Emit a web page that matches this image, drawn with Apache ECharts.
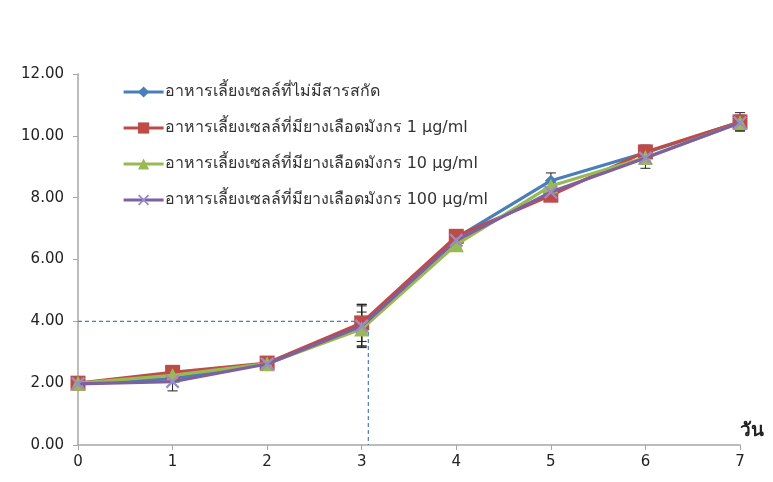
<!DOCTYPE html>
<html><head><meta charset="utf-8">
<script src="https://cdn.jsdelivr.net/npm/echarts@6/dist/echarts.min.js"></script>
<style>html,body{margin:0;padding:0;background:#fff}#c{width:773px;height:482px}</style>
</head><body><div id="c"></div>
<script>
const days = [0,1,2,3,4,5,6,7];
const seriesNames = [
  'อาหารเลี้ยงเซลล์ที่ไม่มีสารสกัด',
  'อาหารเลี้ยงเซลล์ที่มียางเลือดมังกร 1 µg/ml',
  'อาหารเลี้ยงเซลล์ที่มียางเลือดมังกร 10 µg/ml',
  'อาหารเลี้ยงเซลล์ที่มียางเลือดมังกร 100 µg/ml'
];
const control = [2.0, 2.15, 2.63, 3.85, 6.70, 8.55, 9.45, 10.45];
const dose1   = [2.0, 2.35, 2.65, 3.95, 6.75, 8.08, 9.48, 10.45];
const dose10  = [2.0, 2.25, 2.63, 3.75, 6.48, 8.38, 9.30, 10.42];
const dose100 = [1.98, 2.05, 2.62, 3.85, 6.62, 8.18, 9.28, 10.42];
const errControl = [0.03, 0.10, 0.05, 0.70, 0.08, 0.25, 0.25, 0.30];
const errDose1   = [0.03, 0.08, 0.05, 0.60, 0.08, 0.08, 0.15, 0.20];
const errDose10  = [0.03, 0.10, 0.05, 0.55, 0.08, 0.10, 0.35, 0.25];
const errDose100 = [0.03, 0.30, 0.05, 0.65, 0.08, 0.10, 0.20, 0.20];
const yTicks = [0, 2, 4, 6, 8, 10, 12];
const guideY = 4.0;
const guideX = 3.07;

const colors = ['#4a7ebb', '#be4b48', '#98b954', '#7d60a0'];
const symbols = ['diamond', 'rect', 'triangle',
  'path://M0,1.2 L1.2,0 L5,3.8 L8.8,0 L10,1.2 L6.2,5 L10,8.8 L8.8,10 L5,6.2 L1.2,10 L0,8.8 L3.8,5 Z'];
const symbolSizes = [12, 15, 15, 14];
const allVals = [control, dose1, dose10, dose100];
const allErr = [errControl, errDose1, errDose10, errDose100];
const font = 'Tahoma, "DejaVu Sans", "Noto Sans", sans-serif';

const series = [];
allVals.forEach((vals, si) => {
  series.push({
    type: 'custom', name: 'err' + si, z: 1,
    data: days.map((d, i) => [d, vals[i] - allErr[si][i], vals[i] + allErr[si][i]]),
    renderItem: function (params, api) {
      const lo = api.coord([api.value(0), api.value(1)]);
      const hi = api.coord([api.value(0), api.value(2)]);
      const w = 5;
      const st = { stroke: '#222', lineWidth: 1 };
      return { type: 'group', children: [
        { type: 'line', shape: { x1: lo[0], y1: lo[1], x2: hi[0], y2: hi[1] }, style: st },
        { type: 'line', shape: { x1: lo[0] - w, y1: lo[1], x2: lo[0] + w, y2: lo[1] }, style: st },
        { type: 'line', shape: { x1: hi[0] - w, y1: hi[1], x2: hi[0] + w, y2: hi[1] }, style: st }
      ]};
    },
    silent: true
  });
});
series.push({
  type: 'line', name: 'guide', z: 0, symbol: 'none',
  data: [[0, guideY], [guideX, guideY], [guideX, 0]],
  lineStyle: { color: '#4a7ebb', width: 1.2, type: [4, 3] },
  silent: true
});
allVals.forEach((vals, si) => {
  series.push({
    type: 'line', name: seriesNames[si], z: 3 + si,
    data: days.map((d, i) => [d, vals[i]]),
    symbol: symbols[si], symbolSize: symbolSizes[si],
    showAllSymbol: true,
    lineStyle: { color: colors[si], width: 3.2 },
    itemStyle: { color: si === 3 ? '#9c8cc4' : colors[si], borderWidth: 0 }
  });
});

const chart = echarts.init(document.getElementById('c'), null, { renderer: 'canvas' });
chart.setOption({
  animation: false,
  backgroundColor: '#fff',
  grid: { left: 78, right: 33, top: 74, bottom: 37 },
  legend: {
    data: seriesNames, orient: 'vertical', left: 122, top: 84,
    itemWidth: 40, itemHeight: 14, itemGap: 20, padding: 0,
    lineStyle: { width: 3.2 },
    textStyle: { fontSize: 16, color: '#333', fontFamily: font, padding: [0, 0, 0, -4] },
    selectedMode: false
  },
  xAxis: {
    type: 'value', min: 0, max: 7, interval: 1,
    axisLine: { lineStyle: { color: '#a6a6a6', width: 1.5 } },
    axisTick: { show: true, length: 5, lineStyle: { color: '#a6a6a6' } },
    axisLabel: { fontSize: 15, color: '#222', margin: 10, fontFamily: font },
    splitLine: { show: false }
  },
  yAxis: {
    type: 'value', min: yTicks[0], max: yTicks[yTicks.length - 1], interval: 2,
    axisLine: { show: true, lineStyle: { color: '#a6a6a6', width: 1.5 } },
    axisTick: { show: true, length: 5, lineStyle: { color: '#a6a6a6' } },
    axisLabel: { fontSize: 15, color: '#222', margin: 14, fontFamily: font, formatter: v => v.toFixed(2) },
    splitLine: { show: false }
  },
  graphic: [{
    type: 'text', left: 740, top: 422,
    style: { text: 'วัน', fontSize: 19, fontWeight: 'bold', fill: '#222', fontFamily: font }
  }],
  series: series
});
</script></body></html>
